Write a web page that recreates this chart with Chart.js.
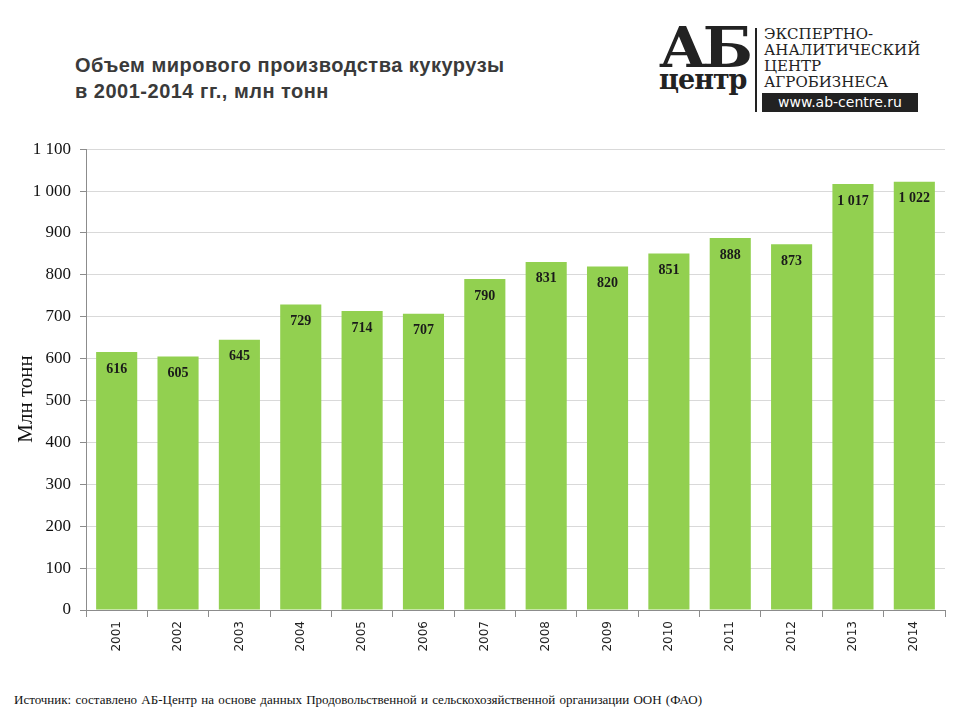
<!DOCTYPE html>
<html lang="ru">
<head>
<meta charset="utf-8">
<title>Объем мирового производства кукурузы</title>
<script src="https://cdn.jsdelivr.net/npm/chart.js@4/dist/chart.umd.min.js"></script>
<style>
  html, body { margin: 0; padding: 0; background: #fff; }
  body { width: 960px; height: 720px; position: relative; overflow: hidden; }
  #title {
    position: absolute; left: 75px; top: 52px;
    font: bold 20px "Liberation Sans", Arial, sans-serif; color: #3a3a3a; line-height: 26px;
    letter-spacing: 0.5px;
  }
  #logo { position: absolute; left: 656px; top: 24px; width: 270px; height: 90px; }
  #logo .ab {
    position: absolute; left: 3px; top: -10px; font: bold 56px "DejaVu Serif", serif; color: #222;
    letter-spacing: -4px; transform: scaleX(1.05); transform-origin: left top;
  }
  #logo .centr {
    position: absolute; left: 3px; top: 40px; font: bold 27px "DejaVu Serif", serif; color: #222;
    letter-spacing: -1px;
  }
  #logo .bar { position: absolute; left: 99px; top: 4px; width: 2px; height: 84px; background: #222; }
  #logo .txt {
    position: absolute; left: 108px; top: 2px; font: 15px "DejaVu Serif", serif; color: #222;
    line-height: 16px;
  }
  #logo .url {
    position: absolute; left: 106px; top: 69px; width: 156px; height: 19px; background: #222; color: #fff;
    font: 14px "DejaVu Sans", sans-serif; line-height: 19px; text-align: center;
  }
  #wrap { position: absolute; left: 0; top: 130px; width: 960px; height: 545px; }
  #source {
    position: absolute; left: 14px; top: 692px;
    font: 13px "Liberation Serif", "Times New Roman", serif; color: #111; word-spacing: 1px;
  }
</style>
</head>
<body>
<div id="title">Объем мирового производства кукурузы<br>в 2001-2014 гг., млн тонн</div>
<div id="logo">
  <div class="ab">АБ</div>
  <div class="centr">центр</div>
  <div class="bar"></div>
  <div class="txt">ЭКСПЕРТНО-<br>АНАЛИТИЧЕСКИЙ<br>ЦЕНТР<br>АГРОБИЗНЕСА</div>
  <div class="url">www.ab-centre.ru</div>
</div>
<div id="wrap"><canvas id="chart"></canvas></div>
<div id="source">Источник: составлено АБ-Центр на основе данных Продовольственной и сельскохозяйственной организации ООН (ФАО)</div>
<script>
// Годы и объем производства, млн тонн
var years = ['2001', '2002', '2003', '2004', '2005', '2006', '2007', '2008', '2009', '2010', '2011', '2012', '2013', '2014'];
var production = [616, 605, 645, 729, 714, 707, 790, 831, 820, 851, 888, 873, 1017, 1022];
var yTicks = [0, 100, 200, 300, 400, 500, 600, 700, 800, 900, 1000, 1100];
var yTitle = 'Млн тонн';

function fmt(v) {
    // разделитель тысяч - пробел
    return String(v).replace(/\B(?=(\d{3})+(?!\d))/g, ' ');
}

// подписи значений внутри столбцов и подпись оси Y
var valueLabels = {
    id: 'valueLabels',
    afterDatasetsDraw: function(chart) {
        var ctx = chart.ctx;
        var meta = chart.getDatasetMeta(0);
        ctx.save();
        ctx.font = 'bold 14px "Liberation Serif", "Times New Roman", serif';
        ctx.fillStyle = '#1a1a1a';
        ctx.textAlign = 'center';
        ctx.textBaseline = 'middle';
        meta.data.forEach(function(bar, i) {
            ctx.fillText(fmt(production[i]), bar.x, bar.y + 17);
        });

        // подпись оси
        ctx.translate(26, 269);
        ctx.rotate(-Math.PI / 2);
        ctx.font = '21px "Liberation Serif", "Times New Roman", serif';
        ctx.fillStyle = '#111';
        ctx.fillText(yTitle, 0, 0);
        ctx.restore();
    }
};

var ctx = document.getElementById('chart').getContext('2d');
var chart = new Chart(ctx, {
    type: 'bar',
    data: {
        labels: years,
        datasets: [{
            data: production,
            backgroundColor: '#92D050',
            borderWidth: 0,
            categoryPercentage: 1,
            barPercentage: 0.67
        }]
    },
    options: {
        responsive: true,
        maintainAspectRatio: false,
        animation: false,
        layout: { padding: { left: 0, right: 15, top: 19, bottom: 0 } },
        plugins: {
            legend: { display: false },
            tooltip: { enabled: false }
        },
        scales: {
            x: {
                grid: {
                    offset: true,
                    drawOnChartArea: false,
                    drawTicks: true,
                    tickLength: 7,
                    color: '#8c8c8c'
                },
                border: { color: '#8c8c8c' },
                ticks: {
                    minRotation: 90,
                    maxRotation: 90,
                    padding: 4,
                    color: '#222',
                    font: { family: '"DejaVu Sans", Verdana, sans-serif', size: 12 }
                },
                afterFit: function(scale) { scale.height = 65; }
            },
            y: {
                min: 0,
                max: 1100,
                afterBuildTicks: function(scale) {
                    scale.ticks = yTicks.map(function(v) { return { value: v }; });
                },
                grid: {
                    color: '#d9d9d9',
                    tickColor: '#8c8c8c',
                    tickLength: 6
                },
                border: { color: '#8c8c8c' },
                ticks: {
                    padding: 9,
                    color: '#111',
                    font: { family: '"Liberation Serif", "Times New Roman", serif', size: 17 },
                    callback: function(v) { return fmt(v); }
                },
                afterFit: function(scale) { scale.width = 86; }
            }
        }
    },
    plugins: [valueLabels]
});
</script>
</body>
</html>
